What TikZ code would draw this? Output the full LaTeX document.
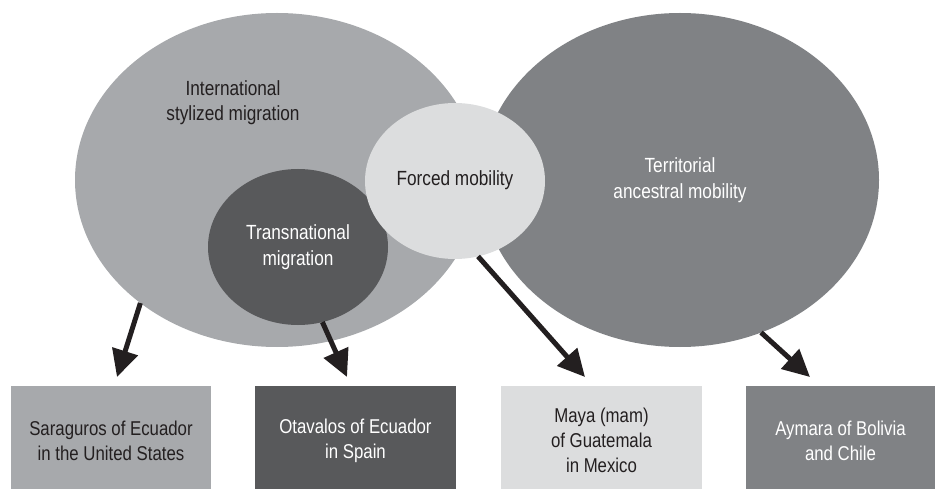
\documentclass[tikz,border=0pt]{standalone}
\usepackage{fontspec}
\setmainfont{Liberation Sans}[FakeStretch=0.84]
\usetikzlibrary{shapes.geometric,arrows.meta}
\definecolor{cA}{HTML}{A7A9AC}
\definecolor{cB}{HTML}{808285}
\definecolor{cC}{HTML}{DCDDDE}
\definecolor{cD}{HTML}{58595B}
\definecolor{cK}{HTML}{231F20}
\begin{document}
\begin{tikzpicture}[x=1pt,y=-1pt,
  blob/.style={ellipse,inner sep=0pt,outer sep=0pt,draw=none},
  card/.style={rectangle,inner sep=0pt,outer sep=0pt,minimum height=103pt},
  cardtext/.style={align=center,inner sep=0pt,font=\fontsize{20}{25}\selectfont},
  lbl/.style={align=center,inner sep=0pt,font=\fontsize{20.5}{25.5}\selectfont},
  arr/.style={line width=5pt,draw=cK,-{Triangle[length=27pt,width=26pt]}}]
\useasboundingbox (0,0) rectangle (935,489);
% big ellipses
\node[blob,fill=cA,minimum width=404pt,minimum height=334pt] (L) at (277,180) {};
\node[blob,fill=cB,minimum width=398pt,minimum height=334pt] (R) at (680,180) {};
\node[blob,fill=cD,minimum width=180pt,minimum height=156pt] (T) at (298,247) {};
\node[blob,fill=cC,minimum width=180pt,minimum height=156pt] (F) at (455,181) {};
% labels
\node[lbl,text=cK] (Lt) at (233,102.5) {International\\stylized migration};
\node[lbl,text=white] (Tt) at (298,247) {Transnational\\migration};
\node[lbl,text=cK] (Ft) at (455,180) {Forced mobility};
\node[lbl,text=white] (Rt) at (680,180) {Territorial\\ancestral mobility};
% boxes
\node[card,fill=cA,minimum width=200pt] (B1) at (111,437.5) {};
\node[card,fill=cD,minimum width=201pt] (B2) at (355.5,437.5) {};
\node[card,fill=cC,minimum width=201pt] (B3) at (601.5,437.5) {};
\node[card,fill=cB,minimum width=189pt] (B4) at (840.5,437.5) {};
\node[cardtext,text=cK] (B1t) at ([yshift=-3pt]B1.center) {Saraguros of Ecuador\\in the United States};
\node[cardtext,text=white] (B2t) at ([yshift=-3pt]B2.center) {Otavalos of Ecuador\\in Spain};
\node[cardtext,text=cK] (B3t) at ([yshift=-3pt]B3.center) {Maya (mam)\\of Guatemala\\in Mexico};
\node[cardtext,text=white] (B4t) at ([yshift=-3pt]B4.center) {Aymara of Bolivia\\and Chile};
% arrow tips
\coordinate (e1) at (117,377);
\coordinate (e2) at (347,377);
\coordinate (e3) at (585,377);
\coordinate (e4) at (810,377);
\draw[arr] (L.222) -- (e1);
\draw[arr] (T.288) -- (e2);
\draw[arr] (F.287) -- (e3);
\draw[arr] (R.298) -- (e4);
\end{tikzpicture}
\end{document}
